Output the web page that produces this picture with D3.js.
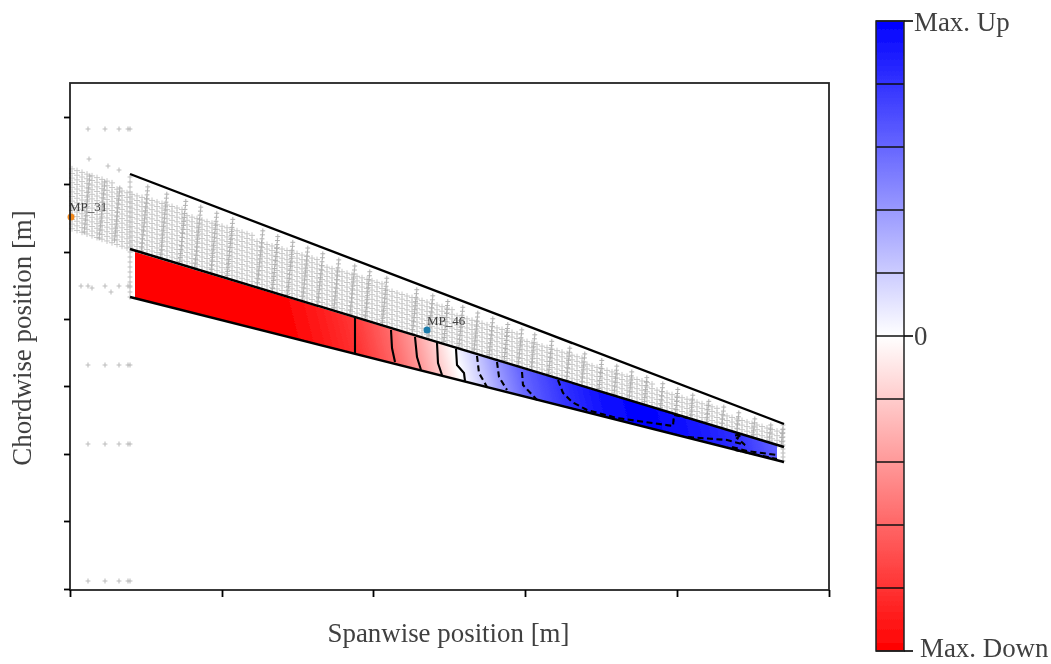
<!DOCTYPE html>
<html><head><meta charset="utf-8">
<script src="https://d3js.org/d3.v7.min.js"></script>
<style>html,body{margin:0;padding:0;background:#fff}svg{display:block}text{font-family:"Liberation Serif",serif;fill:#404040}</style>
</head><body><svg id="c" width="1051" height="664"></svg>
<script>
// Axes carry no numbers in the source, so positions use an arbitrary unit.
const xTicks=[0,152,303,455,607,759];
const yTicks=[1,69,136,204,271,338,406,473];
const outlineX=[60,714];
const topEdge=[416,166];
const midEdge=[341,143];
const botEdge=[293,128];
const surfaceX=[65,707];
const surfaceUpper=[338,145];
const surfaceLower=[292,130];
const gradientStart=[65,315];
const gradientEnd=[627,456];
const stationX=[65,215,285,321,347,368,387,409,429,453,493,530,570,610,665,707];
const stationV=[-1,-1,-.8,-.6,-.4,-.2,0,.2,.4,.6,.8,.93,1,.95,.82,.62];
const solidContours=[
 [[285,273],[285,237]],
 [[321,260],[322,242],[325,228]],
 [[345,253],[347,233],[351,220]],
 [[367,247],[368,227],[372,215]],
 [[386,241],[387,225],[394,217],[395,209]]];
const dashedContours=[
 [[407,234],[409,217],[417,203]],
 [[427,228],[429,213],[437,200]],
 [[452,218],[453,205],[467,190]],
 [[488,210],[493,197],[502,188],[517,180],[547,172],[603,164],[604,175],[618,172]],
 [[618,153],[657,150],[675,145],[667,152],[672,156],[663,154]],
 [[662,143],[677,139],[707,135]],
 [[665,140],[707,131]]];
const gridX=[2,7,12,17,22,27,32,37,42,47,52,57,62,67,72,77,82,87,92,97,102,107,112,117,122,127,132,137,142,147,152,157,162,167,172,177,182,187,192,197,202,207,212,217,222,227,232,237,242,247,252,257,262,267,272,277,282,287,292,297,302,307,312,317,322,327,332,337,342,347,352,357,362,367,372,377,382,387,392,397,402,407,412,417,422,427,432,437,442,447,452,457,462,467,472,477,482,487,492,497,502,507,512,517,522,527,532,537,542,547,552,557,562,567,572,577,582,587,592,597,602,607,612,617,622,627,632,637,642,647,652,657,662,667,672,677,682,687,692,697,702,707,712];
const gridRows=[0,4.6,9.2,13.8,18.4,23,27.6,32.2,36.8,41.4,46,50.6,55.2,59.8];
const bandX=[0,60,714];
const bandTop=[424,400,157];
const bandBot=[362,341,143];
const spikeX=[20,35,50,78,97,116,131,147,163,193,208,223,238,253,269,285,300,317,347,363,378,393,408,423,438,452,465,482,500,515,532,547,562,577,593,608,623,639,654,669,685,701,713];
const spikeSteps=[2,6,10,14,18,22,26,30,34,38,42,46,50,54,58,62,66,70];
const sparseX=[18,35,49,58,60];
const sparseY=[461,304,225,146,9];
const extraX=[19,38,49,11,22,41];
const extraY=[431,424,420,304,302,298];
const rootColumnX=[60];
const rootColumnY=[413,408,403,398,393,388,383,378,373,368,363,358,353,348,343,338,333,328,323,318,313,308,303,298,293];
const tipColumnX=[713];
const tipColumnY=[165,161,157,153,149,145,141,137,133,129];
const monitors=[{name:"MP_31",x:1,y:373,color:"#f2881d",lx:-1,ly:379},{name:"MP_46",x:357,y:260,color:"#1b7bab",lx:357,ly:265}];
const barLevels=[-1,-.8,-.6,-.4,-.2,0,.2,.4,.6,.8,1];
const barTicks=[[-1,"Max. Down"],[0,"0"],[1,"Max. Up"]];

const svg=d3.select("#c");
const defs=svg.append("defs");
defs.append("filter").attr("id","soft").attr("filterUnits","userSpaceOnUse")
  .attr("x",0).attr("y",0).attr("width",1051).attr("height",664)
  .append("feGaussianBlur").attr("stdDeviation",.7);
const root=svg.append("g").attr("filter","url(#soft)");
const x=d3.scaleLinear().domain([0,759]).range([70,829]);
const y=d3.scaleLinear().domain([0,507]).range([590,83]);
const color=d3.scaleLinear().domain([-1,0,1]).range(["#ff0000","#ffffff","#0000ff"]);
defs.append("clipPath").attr("id","plot").append("rect").attr("x",x(0)-3).attr("y",y(507)).attr("width",762).attr("height",507);

// surface gradient
const off=d3.scaleLinear().domain(surfaceX).range([0,1]);
defs.append("linearGradient").attr("id","surf").attr("gradientUnits","userSpaceOnUse")
 .attr("x1",x(gradientStart[0])).attr("y1",y(gradientStart[1]))
 .attr("x2",x(gradientEnd[0])).attr("y2",y(gradientEnd[1]))
 .selectAll("stop").data(stationX).join("stop")
 .attr("offset",d=>off(d)).attr("stop-color",(d,i)=>color(stationV[i]));
const barY=d3.scaleLinear().domain([-1,1]).range([651,21]);
defs.append("linearGradient").attr("id","bar").attr("x1",0).attr("x2",0).attr("y1",0).attr("y2",1)
 .selectAll("stop").data([1,0,-1]).join("stop")
 .attr("offset",(d,i)=>i/2).attr("stop-color",d=>color(d));

// mesh
const bt=d3.scaleLinear().domain(bandX).range(bandTop), bb=d3.scaleLinear().domain(bandX).range(bandBot);
const te=d3.scaleLinear().domain(outlineX).range(topEdge);
const pts=[];
gridX.forEach(g=>gridRows.forEach(r=>{const v=bb(g)+r; if(v<=bt(g)) pts.push([g,v]);}));
const single=[];
sparseX.forEach(a=>sparseY.forEach(b=>single.push([a,b])));
extraX.forEach((a,i)=>single.push([a,extraY[i]]));
rootColumnX.forEach(a=>rootColumnY.forEach(b=>single.push([a,b])));
tipColumnX.forEach(a=>tipColumnY.forEach(b=>single.push([a,b])));
const dark=[];
spikeX.forEach(s=>{
  const start=s>=60?te(s)-4:bt(s);
  spikeSteps.forEach(k=>{const v=start-k; const sx=s-k*.1; if(v>=bb(sx)) dark.push([sx,v]);});
});
const plusSym=d3.symbolPlus||d3.symbolCross;
const plus=d3.symbol().type(plusSym).size(14), small=d3.symbol().type(plusSym).size(9);
const mesh=root.append("g").attr("clip-path","url(#plot)");
mesh.selectAll(".m").data(pts).join("path").attr("class","m").attr("d",plus)
 .attr("transform",d=>`translate(${x(d[0])},${y(d[1])})`).attr("fill","none").attr("stroke","#c6c6c6").attr("stroke-width",1);
mesh.selectAll(".p").data(single).join("path").attr("class","p").attr("d",small)
 .attr("transform",d=>`translate(${x(d[0])},${y(d[1])})`).attr("fill","none").attr("stroke","#bebebe").attr("stroke-width",1.1);
mesh.selectAll(".s").data(dark).join("path").attr("class","s").attr("d",small)
 .attr("transform",d=>`translate(${x(d[0])},${y(d[1])})`).attr("fill","none").attr("stroke","#b0b0b0").attr("stroke-width",1);

// surface
const area=d3.area().x(d=>x(d[0])).y0(d=>y(d[1])).y1(d=>y(d[2]));
root.append("path").datum(surfaceX.map((d,i)=>[d,surfaceLower[i],surfaceUpper[i]]))
 .attr("d",area).attr("fill","url(#surf)");

// contours
const line=d3.line().x(d=>x(d[0])).y(d=>y(d[1]));
root.selectAll(".cs").data(solidContours).join("path").attr("class","cs").attr("d",line)
 .attr("fill","none").attr("stroke","#000").attr("stroke-width",2.1);
root.selectAll(".cd").data(dashedContours).join("path").attr("class","cd").attr("d",line)
 .attr("fill","none").attr("stroke","#000").attr("stroke-width",2.1).attr("stroke-dasharray","6,3.5");

// wing outlines
[topEdge,midEdge,botEdge].forEach(e=>{
  root.append("path").datum(outlineX.map((d,i)=>[d,e[i]])).attr("d",line)
   .attr("fill","none").attr("stroke","#000").attr("stroke-width",2.4);
});

// monitors
root.selectAll(".mp").data(monitors).join("circle").attr("class","mp")
 .attr("cx",d=>x(d.x)).attr("cy",d=>y(d.y)).attr("r",3.5).attr("fill",d=>d.color);
root.selectAll(".ml").data(monitors).join("text").attr("class","ml")
 .attr("x",d=>x(d.lx)).attr("y",d=>y(d.ly)).attr("font-size",13).text(d=>d.name);

// frame and axes
root.append("rect").attr("x",x(0)).attr("y",y(507)).attr("width",x(759)-x(0)).attr("height",y(0)-y(507))
 .attr("fill","none").attr("stroke","#222").attr("stroke-width",1.8);
const ax=root.append("g").attr("transform",`translate(0,${y(0)})`)
 .call(d3.axisBottom(x).tickValues(xTicks).tickFormat("").tickSize(7));
const ay=root.append("g").attr("transform",`translate(${x(0)},0)`)
 .call(d3.axisLeft(y).tickValues(yTicks).tickFormat("").tickSize(6));
[ax,ay].forEach(g=>{g.select(".domain").remove();g.selectAll("line").attr("stroke","#000").attr("stroke-width",1.8);});

root.append("text").attr("x",448.5).attr("y",642).attr("text-anchor","middle").attr("font-size",26.9).text("Spanwise position [m]");
root.append("text").attr("transform","translate(31,338) rotate(-90)").attr("text-anchor","middle").attr("font-size",26.9).text("Chordwise position [m]");

// colour bar
root.append("rect").attr("x",876).attr("y",barY(1)).attr("width",28).attr("height",barY(-1)-barY(1)).attr("fill","url(#bar)");
root.selectAll(".bl").data(barLevels).join("line").attr("class","bl")
 .attr("x1",876).attr("x2",904).attr("y1",d=>barY(d)).attr("y2",d=>barY(d)).attr("stroke","#111").attr("stroke-width",1.5);
root.append("rect").attr("x",876).attr("y",barY(1)).attr("width",28).attr("height",barY(-1)-barY(1)).attr("fill","none").attr("stroke","#222").attr("stroke-width",1.5);
root.selectAll(".bt").data(barTicks).join("line").attr("class","bt")
 .attr("x1",904).attr("x2",913).attr("y1",d=>barY(d[0])).attr("y2",d=>barY(d[0])).attr("stroke","#111").attr("stroke-width",1.7);
root.selectAll(".bx").data(barTicks).join("text").attr("class","bx")
 .attr("x",d=>d[0]<0?920:914).attr("y",d=>barY(d[0])+(d[0]>0?10:d[0]<0?6:9))
 .attr("font-size",26.9).text(d=>d[1]);
</script></body></html>
